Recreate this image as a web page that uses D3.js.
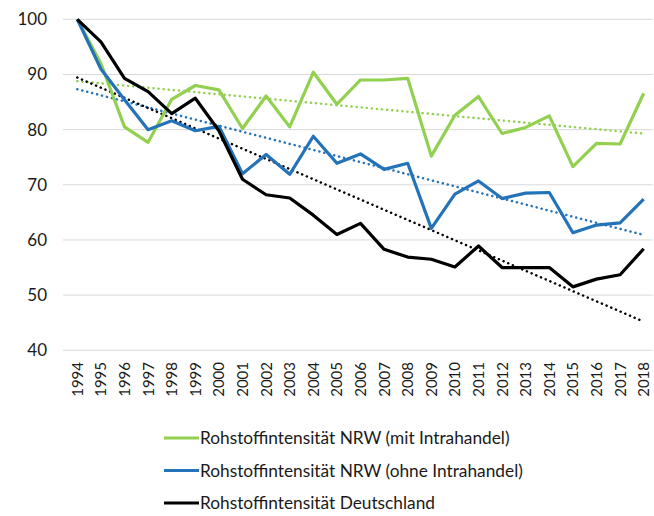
<!DOCTYPE html>
<html><head><meta charset="utf-8">
<script src="https://cdn.jsdelivr.net/npm/d3@7"></script>
<style>body{margin:0;background:#fff}svg{display:block}</style>
</head><body><svg id="c" width="654" height="516"></svg>
<script>
const years = ["1994","1995","1996","1997","1998","1999","2000","2001","2002","2003","2004","2005","2006","2007","2008","2009","2010","2011","2012","2013","2014","2015","2016","2017","2018"];
const mitIntrahandel = [100,92,80.5,77.7,85.5,88,87.2,80.2,86.1,80.5,90.4,84.6,89,89,89.3,75.2,82.6,86,79.3,80.4,82.5,73.3,77.5,77.4,86.6];
const ohneIntrahandel = [100,91,85.4,80,81.6,79.8,80.6,72,75.5,71.9,78.8,73.9,75.6,72.8,73.9,62.1,68.3,70.7,67.5,68.5,68.6,61.3,62.7,63.1,67.4];
const deutschland = [100,95.9,89.3,86.9,82.9,85.7,79.8,71,68.2,67.6,64.5,61,63,58.3,56.9,56.5,55.1,58.9,55,55,55,51.5,52.9,53.7,58.4];
const yTicks = [40,50,60,70,80,90,100];
const seriesNames = ["Rohstoffintensität NRW (mit Intrahandel)","Rohstoffintensität NRW (ohne Intrahandel)","Rohstoffintensität Deutschland"];
const colors = ["#92D050","#2473B8","#000000"];

const svg = d3.select("#c");
const font = "Lato, 'Open Sans', sans-serif";
const x = d3.scalePoint().domain(years).range([77.3, 643.7]);
const y = d3.scaleLinear().domain([40,100]).range([350.3, 19.3]);

// gridlines
svg.append("g").selectAll("line").data(yTicks).join("line")
  .attr("x1", 63).attr("x2", 653)
  .attr("y1", d => y(d)).attr("y2", d => y(d))
  .attr("stroke", "#D9D9D9").attr("stroke-width", 1);

// y labels
svg.append("g").selectAll("text").data(yTicks).join("text")
  .attr("x", 47).attr("y", d => y(d)).attr("dy", "0.35em")
  .attr("text-anchor", "end").attr("font-family", font).attr("font-size", 17)
  .attr("fill", "#1a1a1a").text(d => d);

// x labels
svg.append("g").selectAll("text").data(years).join("text")
  .attr("transform", d => `translate(${x(d)},362) rotate(-90)`)
  .attr("dy", "0.36em").attr("text-anchor", "end")
  .attr("font-family", font).attr("font-size", 15).attr("fill", "#1a1a1a").text(d => d);

const data = [mitIntrahandel, ohneIntrahandel, deutschland];
const line = d3.line().x((d,i) => x(years[i])).y(d => y(d));

// trendlines (linear least squares)
data.forEach((vals, k) => {
  const n = vals.length;
  const xs = vals.map((_, i) => i);
  const mx = d3.mean(xs), my = d3.mean(vals);
  const b = d3.sum(xs.map((xi, i) => (xi - mx) * (vals[i] - my))) / d3.sum(xs.map(xi => (xi - mx) ** 2));
  const a = my - b * mx;
  svg.append("line")
    .attr("x1", x(years[0])).attr("y1", y(a))
    .attr("x2", x(years[n-1])).attr("y2", y(a + b * (n-1)))
    .attr("stroke", colors[k]).attr("stroke-width", 2.5)
    .attr("stroke-dasharray", "0.1 5").attr("stroke-linecap", "round");
});

data.forEach((vals, k) => {
  svg.append("path").datum(vals).attr("d", line)
    .attr("fill", "none").attr("stroke", colors[k]).attr("stroke-width", 3.2)
    .attr("stroke-linejoin", "round");
});

// legend
const lg = svg.append("g");
seriesNames.forEach((name, k) => {
  const ly = 438 + k * 32.5;
  lg.append("line").attr("x1", 164).attr("x2", 199).attr("y1", ly).attr("y2", ly)
    .attr("stroke", colors[k]).attr("stroke-width", 3.2);
  lg.append("text").attr("x", 200).attr("y", ly).attr("dy", "0.35em")
    .attr("font-family", font).attr("font-size", 17.3).attr("fill", "#1a1a1a").text(name);
});
</script></body></html>
